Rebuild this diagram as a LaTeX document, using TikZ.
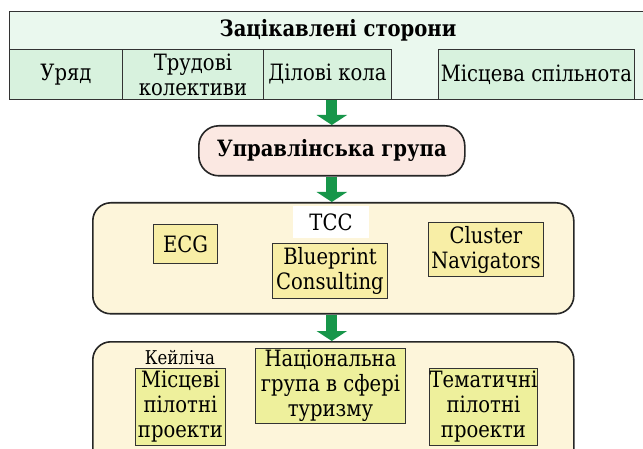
\documentclass[tikz,border=0pt]{standalone}
\usepackage{fontspec}
\newfontfamily\lserif[FakeStretch=0.87]{DejaVu Serif}
\usetikzlibrary{arrows.meta}
\definecolor{outgreen}{HTML}{EAF8EE}
\definecolor{cellgreen}{HTML}{D8F2DE}
\definecolor{pinkf}{HTML}{FBE8E2}
\definecolor{creamf}{HTML}{FDF5DA}
\definecolor{yelf}{HTML}{F8EEA6}
\definecolor{limef}{HTML}{EEF09C}
\definecolor{arrg}{HTML}{17964A}
\definecolor{edgec}{HTML}{333333}
\begin{document}
\begin{tikzpicture}[x=1pt,y=-1pt,
  txt/.style={font=\lserif\fontsize{22.5}{25}\selectfont, align=center, inner sep=0pt},
  cell/.style={txt, draw=edgec, line width=0.9pt, fill=cellgreen, anchor=north west, minimum height=50pt},
  bigbox/.style={draw=black!85, line width=1.6pt, fill=creamf, rounded corners=18pt, anchor=north west, inner sep=0pt},
  ibox/.style={txt, draw=edgec, line width=1pt, fill=yelf, anchor=north west},
  lbox/.style={txt, draw=edgec, line width=1pt, fill=limef, anchor=north west},
  bigarrow/.style={arrg, line width=11pt, -{Triangle[width=30pt,length=10pt]}}
]
\useasboundingbox (0,0) rectangle (643,449);
\clip (0,0) rectangle (643,449);
\fill[white] (0,0) rectangle (643,449);

% stakeholders
\node[draw=edgec, fill=outgreen, line width=0.9pt, anchor=north west, minimum width=660pt, minimum height=88pt, inner sep=0pt] (top) at (9,11) {};
\node[txt, font=\lserif\bfseries\fontsize{22.5}{26}\selectfont] (title) at (338,30) {Зацікавлені сторони};
\node[cell, minimum width=113pt] (uryad) at (9,49) {Уряд};
\node[cell, minimum width=141pt] (trud) at (122,49) {Трудові\\колективи};
\node[cell, minimum width=128pt] (dilovi) at (263,49) {Ділові кола};
\node[cell, minimum width=196pt] (mists) at (438,49) {Місцева спільнота};

% management group
\node[draw=black!85, line width=1.6pt, fill=pinkf, rounded corners=20pt, anchor=north west, minimum width=266pt, minimum height=50pt, inner sep=0pt, font=\lserif\bfseries\fontsize{22.5}{26}\selectfont] (ugroup) at (198,125) {Управлінська група};

% middle box
\node[bigbox, minimum width=481pt, minimum height=111pt] (mid) at (92,202) {};
\node[txt, fill=white, minimum width=76pt, minimum height=32pt] (tcc) at (331,222) {TCC};
\node[ibox, minimum width=64pt, minimum height=39pt] (ecg) at (153,224) {ECG};
\node[ibox, minimum width=115pt, minimum height=55pt] (blue) at (272,243) {Blueprint\\Consulting};
\node[ibox, minimum width=115pt, minimum height=54pt] (clus) at (428,222) {Cluster\\Navigators};

% bottom box
\node[bigbox, minimum width=481pt, minimum height=130pt] (bot) at (92,341) {};
\node[txt, font=\lserif\fontsize{19}{22}\selectfont] (keil) at (180,358) {Кейліча};
\node[lbox, minimum width=90pt, minimum height=77pt] (mpil) at (135,368) {Місцеві\\пілотні\\проекти};
\node[lbox, minimum width=150pt, minimum height=75pt] (nat) at (255,348) {Національна\\група в сфері\\туризму};
\node[lbox, minimum width=108pt, minimum height=77pt] (tem) at (429,368) {Тематичні\\пілотні\\проекти};

% arrows
\draw[bigarrow] (ugroup.north |- top.south) -- (ugroup.north);
\draw[bigarrow] (ugroup.south) -- (mid.north -| ugroup.south);
\draw[bigarrow] (mid.south -| ugroup.south) -- (bot.north -| ugroup.south);
\end{tikzpicture}
\end{document}
